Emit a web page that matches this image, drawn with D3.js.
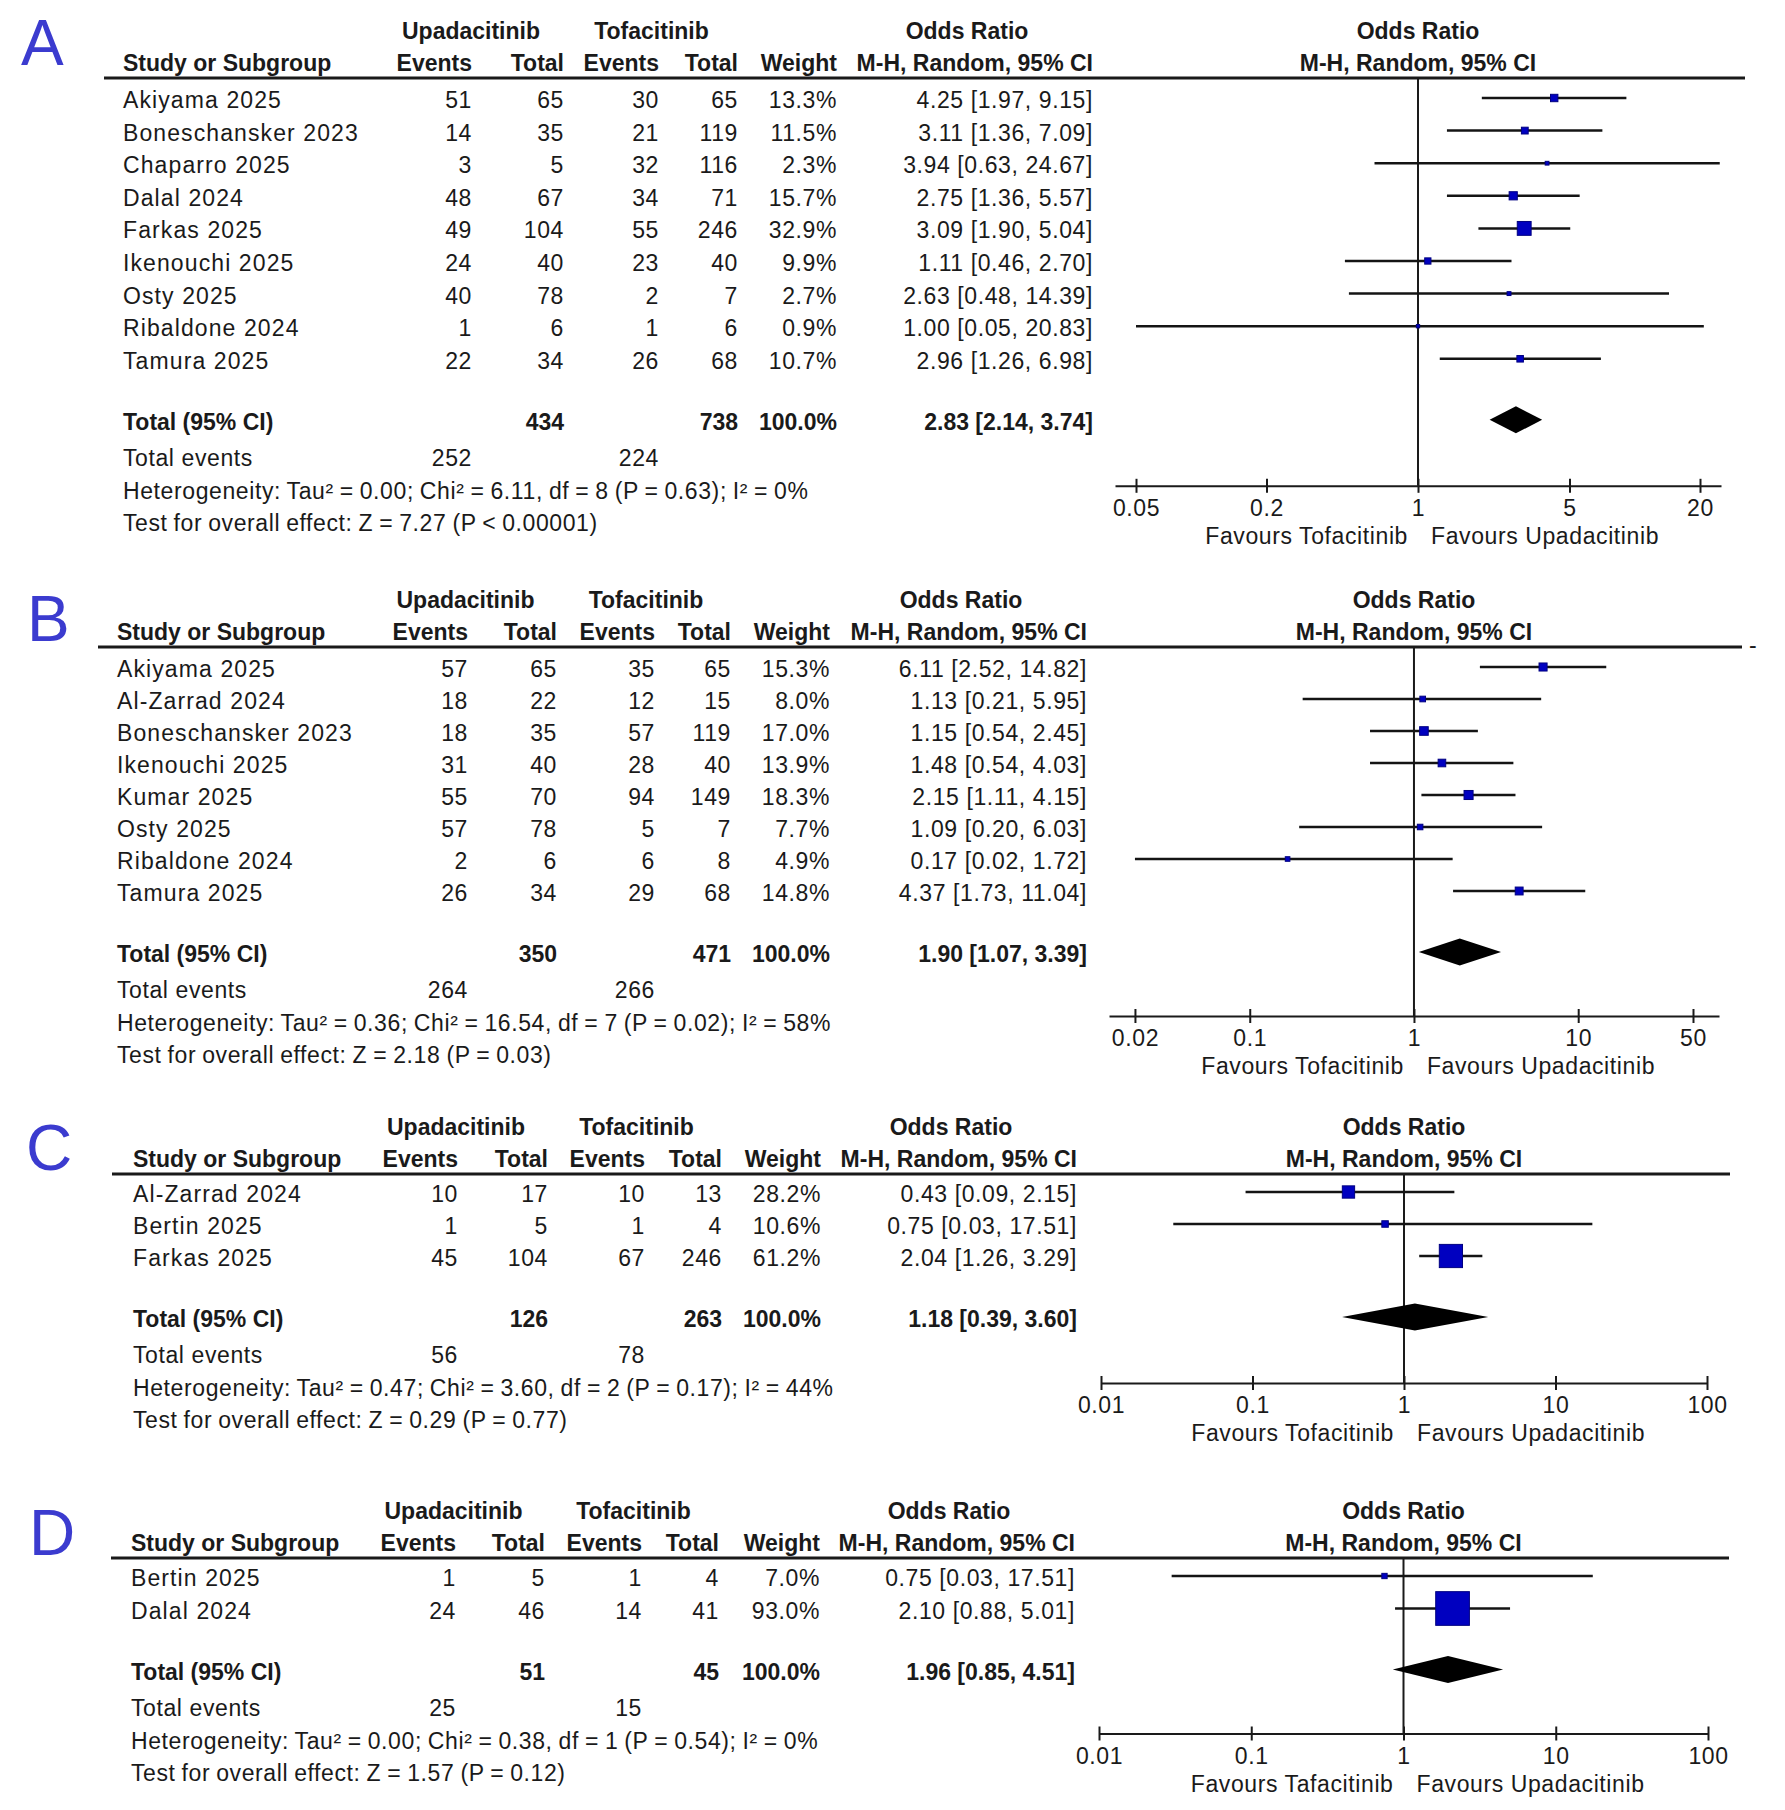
<!DOCTYPE html>
<html>
<head>
<meta charset="utf-8">
<script src="https://cdn.jsdelivr.net/npm/d3@7"></script>
<style>
body{margin:0;background:#fff;}
svg text{font-family:'Liberation Sans',Arial,sans-serif;fill:#1a1a1a;}
.reg{font-size:23px;letter-spacing:0.6px;}
.name{font-size:23px;letter-spacing:1.1px;}
.note{font-size:23px;letter-spacing:0.6px;word-spacing:-1px;}
.bold{font-size:23px;font-weight:bold;}
.letter{font-size:64px;fill:#3b3bcf;}
</style>
</head>
<body>
<div id="chart"></div>
<script>
// Data ---------- ---------- ----------
// [study, upaEvents, upaTotal, tofaEvents, tofaTotal, weight%, OR, lower, upper]
let rowsA = [
  ["Akiyama 2025", 51, 65, 30, 65, 13.3, 4.25, 1.97, 9.15],
  ["Boneschansker 2023", 14, 35, 21, 119, 11.5, 3.11, 1.36, 7.09],
  ["Chaparro 2025", 3, 5, 32, 116, 2.3, 3.94, 0.63, 24.67],
  ["Dalal 2024", 48, 67, 34, 71, 15.7, 2.75, 1.36, 5.57],
  ["Farkas 2025", 49, 104, 55, 246, 32.9, 3.09, 1.90, 5.04],
  ["Ikenouchi 2025", 24, 40, 23, 40, 9.9, 1.11, 0.46, 2.70],
  ["Osty 2025", 40, 78, 2, 7, 2.7, 2.63, 0.48, 14.39],
  ["Ribaldone 2024", 1, 6, 1, 6, 0.9, 1.00, 0.05, 20.83],
  ["Tamura 2025", 22, 34, 26, 68, 10.7, 2.96, 1.26, 6.98]
];
let rowsB = [
  ["Akiyama 2025", 57, 65, 35, 65, 15.3, 6.11, 2.52, 14.82],
  ["Al-Zarrad 2024", 18, 22, 12, 15, 8.0, 1.13, 0.21, 5.95],
  ["Boneschansker 2023", 18, 35, 57, 119, 17.0, 1.15, 0.54, 2.45],
  ["Ikenouchi 2025", 31, 40, 28, 40, 13.9, 1.48, 0.54, 4.03],
  ["Kumar 2025", 55, 70, 94, 149, 18.3, 2.15, 1.11, 4.15],
  ["Osty 2025", 57, 78, 5, 7, 7.7, 1.09, 0.20, 6.03],
  ["Ribaldone 2024", 2, 6, 6, 8, 4.9, 0.17, 0.02, 1.72],
  ["Tamura 2025", 26, 34, 29, 68, 14.8, 4.37, 1.73, 11.04]
];
let rowsC = [
  ["Al-Zarrad 2024", 10, 17, 10, 13, 28.2, 0.43, 0.09, 2.15],
  ["Bertin 2025", 1, 5, 1, 4, 10.6, 0.75, 0.03, 17.51],
  ["Farkas 2025", 45, 104, 67, 246, 61.2, 2.04, 1.26, 3.29]
];
let rowsD = [
  ["Bertin 2025", 1, 5, 1, 4, 7.0, 0.75, 0.03, 17.51],
  ["Dalal 2024", 24, 46, 14, 41, 93.0, 2.10, 0.88, 5.01]
];
// [upaTotal, tofaTotal, OR, lower, upper, upaEvents, tofaEvents]
let totalA = [434, 738, 2.83, 2.14, 3.74, 252, 224];
let totalB = [350, 471, 1.90, 1.07, 3.39, 264, 266];
let totalC = [126, 263, 1.18, 0.39, 3.60, 56, 78];
let totalD = [51, 45, 1.96, 0.85, 4.51, 25, 15];
let hetA = "Heterogeneity: Tau² = 0.00; Chi² = 6.11, df = 8 (P = 0.63); I² = 0%";
let hetB = "Heterogeneity: Tau² = 0.36; Chi² = 16.54, df = 7 (P = 0.02); I² = 58%";
let hetC = "Heterogeneity: Tau² = 0.47; Chi² = 3.60, df = 2 (P = 0.17); I² = 44%";
let hetD = "Heterogeneity: Tau² = 0.00; Chi² = 0.38, df = 1 (P = 0.54); I² = 0%";
let testA = "Test for overall effect: Z = 7.27 (P < 0.00001)";
let testB = "Test for overall effect: Z = 2.18 (P = 0.03)";
let testC = "Test for overall effect: Z = 0.29 (P = 0.77)";
let testD = "Test for overall effect: Z = 1.57 (P = 0.12)";
let ticksA = [0.05, 0.2, 1, 5, 20];
let ticksB = [0.02, 0.1, 1, 10, 50];
let ticksC = [0.01, 0.1, 1, 10, 100];
let ticksD = [0.01, 0.1, 1, 10, 100];
let favLeft = ["Favours Tofacitinib", "Favours Tofacitinib", "Favours Tofacitinib", "Favours Tafacitinib"];
let favRight = "Favours Upadacitinib";

// Layout ---------- ---------- ----------
let canvasW = 1785, canvasH = 1810;
let panels = [
  {letter:"A", lx:21, ly:65, L:78, x0:104, x1:1745, sx:123, ue:472, ut:564, te:659, tt:738, w:837, or:1093,
   first:98, pitch:32.6, axOff:66, dom:[0.04,25], rng:[1115,1721], rows:rowsA, tot:totalA, het:hetA, test:testA, ticks:ticksA},
  {letter:"B", lx:27, ly:641, L:647, x0:98, x1:1742, sx:117, ue:468, ut:557, te:655, tt:731, w:830, or:1087,
   first:667, pitch:32, axOff:64, dom:[0.0139,72], rng:[1109,1719], rows:rowsB, tot:totalB, het:hetB, test:testB, ticks:ticksB},
  {letter:"C", lx:26, ly:1170, L:1174, x0:112, x1:1730, sx:133, ue:458, ut:548, te:645, tt:722, w:821, or:1077,
   first:1192, pitch:32, axOff:66, dom:[0.01,100], rng:[1101,1707], rows:rowsC, tot:totalC, het:hetC, test:testC, ticks:ticksC},
  {letter:"D", lx:29, ly:1555, L:1558, x0:111, x1:1729, sx:131, ue:456, ut:545, te:642, tt:719, w:820, or:1075,
   first:1576, pitch:32.5, axOff:64, dom:[0.01,100], rng:[1099,1708], rows:rowsD, tot:totalD, het:hetD, test:testD, ticks:ticksD}
];

let svg = d3.select("#chart").append("svg").attr("width", canvasW).attr("height", canvasH);
let size = d3.scaleLinear().domain([0, 100]).range([3, 36]); // square side from weight
let f2 = d3.format(".2f");
let ci = (o, l, u) => f2(o) + " [" + f2(l) + ", " + f2(u) + "]";

function txt(g, x, y, s, cls, anchor) {
  return g.append("text").attr("x", x).attr("y", y).attr("class", cls)
    .attr("text-anchor", anchor || "start").text(s);
}

panels.forEach((p, pi) => {
  let g = svg.append("g");
  let x = d3.scaleLog().domain(p.dom).range(p.rng);
  let mid = (p.rng[0] + p.rng[1]) / 2;

  // Panel letter
  txt(g, p.lx, p.ly, p.letter, "letter");

  // Header
  let h1 = p.L - 39, h2 = p.L - 7;
  txt(g, (p.ue + p.ut) / 2 - 47, h1, "Upadacitinib", "bold", "middle");
  txt(g, (p.te + p.tt) / 2 - 47, h1, "Tofacitinib", "bold", "middle");
  txt(g, p.or - 126, h1, "Odds Ratio", "bold", "middle");
  txt(g, mid, h1, "Odds Ratio", "bold", "middle");
  txt(g, p.sx, h2, "Study or Subgroup", "bold");
  txt(g, p.ue, h2, "Events", "bold", "end");
  txt(g, p.ut, h2, "Total", "bold", "end");
  txt(g, p.te, h2, "Events", "bold", "end");
  txt(g, p.tt, h2, "Total", "bold", "end");
  txt(g, p.w, h2, "Weight", "bold", "end");
  txt(g, p.or, h2, "M-H, Random, 95% CI", "bold", "end");
  txt(g, mid, h2, "M-H, Random, 95% CI", "bold", "middle");
  g.append("line").attr("x1", p.x0).attr("x2", p.x1).attr("y1", p.L).attr("y2", p.L)
    .attr("stroke", "#1a1a1a").attr("stroke-width", 3);
  if (p.letter === "B") txt(g, p.x1 + 7, p.L + 6, "-", "reg");

  // Study rows
  let rowY = i => p.first + i * p.pitch;
  p.rows.forEach((d, i) => {
    let y = rowY(i) + 10;
    txt(g, p.sx, y, d[0], "name");
    txt(g, p.ue, y, d[1], "reg", "end");
    txt(g, p.ut, y, d[2], "reg", "end");
    txt(g, p.te, y, d[3], "reg", "end");
    txt(g, p.tt, y, d[4], "reg", "end");
    txt(g, p.w, y, d[5].toFixed(1) + "%", "reg", "end");
    txt(g, p.or, y, ci(d[6], d[7], d[8]), "reg", "end");
  });

  let lastY = rowY(p.rows.length - 1);
  let totY = lastY + 61, axisY = totY + p.axOff;

  // Null line
  g.append("line").attr("x1", x(1)).attr("x2", x(1)).attr("y1", p.L).attr("y2", axisY)
    .attr("stroke", "#1a1a1a").attr("stroke-width", 2);

  // CI whiskers and squares
  g.selectAll(".ci").data(p.rows).enter().append("line")
    .attr("class", "ci")
    .attr("x1", d => x(d[7])).attr("x2", d => x(d[8]))
    .attr("y1", (d, i) => rowY(i)).attr("y2", (d, i) => rowY(i))
    .attr("stroke", "#141414").attr("stroke-width", 2.5);
  g.selectAll(".sq").data(p.rows).enter().append("rect")
    .attr("class", "sq")
    .attr("x", d => x(d[6]) - size(d[5]) / 2)
    .attr("y", (d, i) => rowY(i) - size(d[5]) / 2)
    .attr("width", d => size(d[5])).attr("height", d => size(d[5]))
    .attr("fill", "#0000c0").attr("stroke", "#000080").attr("stroke-width", 1);

  // Total row
  let t = p.tot;
  txt(g, p.sx, totY + 10, "Total (95% CI)", "bold");
  txt(g, p.ut, totY + 10, t[0], "bold", "end");
  txt(g, p.tt, totY + 10, t[1], "bold", "end");
  txt(g, p.w, totY + 10, "100.0%", "bold", "end");
  txt(g, p.or, totY + 10, ci(t[2], t[3], t[4]), "bold", "end");
  g.append("path")
    .attr("d", "M" + x(t[3]) + "," + totY + "L" + x(t[2]) + "," + (totY - 13.5) +
      "L" + x(t[4]) + "," + totY + "L" + x(t[2]) + "," + (totY + 13.5) + "Z")
    .attr("fill", "#000");

  txt(g, p.sx, totY + 46, "Total events", "reg");
  txt(g, p.ue, totY + 46, t[5], "reg", "end");
  txt(g, p.te, totY + 46, t[6], "reg", "end");
  txt(g, p.sx, totY + 79, p.het, "note");
  txt(g, p.sx, totY + 111, p.test, "note");

  // Axis
  let ax = g.append("g").attr("transform", "translate(0," + axisY + ")")
    .call(d3.axisBottom(x).tickValues(p.ticks).tickFormat(d => String(d)).tickSizeOuter(0).tickSizeInner(7));
  ax.attr("font-size", null).attr("font-family", null);
  ax.select(".domain").attr("stroke", "#1a1a1a").attr("stroke-width", 2);
  ax.selectAll(".tick line").attr("y1", -7).attr("y2", 7).attr("stroke", "#1a1a1a").attr("stroke-width", 2);
  ax.selectAll(".tick text").attr("class", "reg").attr("y", 30).attr("dy", null);

  txt(g, x(1) - 10, axisY + 58, favLeft[pi], "reg", "end");
  txt(g, x(1) + 13, axisY + 58, favRight, "reg");
});
</script>
</body>
</html>
